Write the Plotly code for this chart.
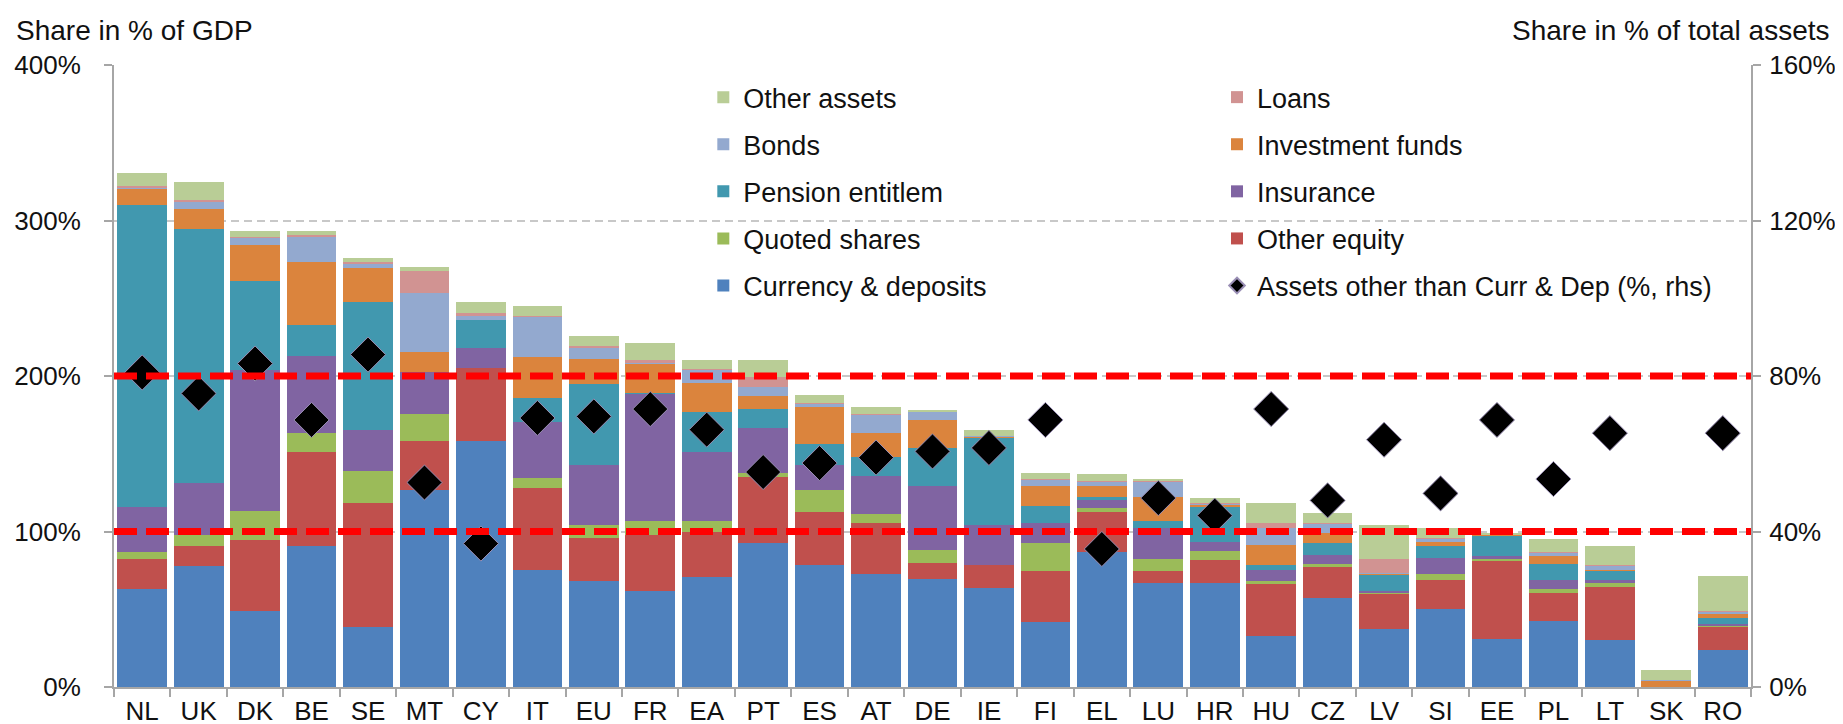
import plotly.graph_objects as go

countries = ["NL", "UK", "DK", "BE", "SE", "MT", "CY", "IT", "EU", "FR", "EA", "PT", "ES", "AT", "DE",
             "IE", "FI", "EL", "LU", "HR", "HU", "CZ", "LV", "SI", "EE", "PL", "LT", "SK", "RO"]

currency_deposits = [63, 78, 49, 90.5, 38.5, 127, 158.5, 75, 68, 62, 70.5, 92.5, 78.5, 72.5, 69.5,
                     63.5, 41.5, 86.5, 67, 67, 32.5, 57, 37, 50, 31, 42.5, 30, 0, 24]
other_equity = [19, 12.5, 45.5, 60.5, 80, 31.5, 46.5, 53, 28, 35.5, 29, 42.5, 34, 33, 10,
                15, 33, 26, 7.5, 14.5, 34, 20, 22.5, 18.5, 50, 18, 34.5, 0, 15]
quoted_shares = [5, 7.5, 18.5, 12.5, 20.5, 17, 0, 6.5, 8.5, 9.5, 7.5, 2.5, 14.5, 6, 8.5,
                 0, 18, 2.5, 7.5, 6, 1.5, 2, 1.5, 4, 1.5, 2.5, 2.5, 0, 0.5]
insurance = [29, 33.5, 91, 49.5, 26.5, 27, 13, 36, 38.5, 81.5, 44, 29, 15.5, 24.5, 41.5,
             26, 13, 5, 20.5, 5.5, 7, 6, 0.5, 10.5, 2, 5.5, 2, 0, 1]
pension = [194, 163, 57, 20, 82, 0, 18, 15.5, 52, 0.5, 26, 12, 14, 12, 24,
           56, 11, 2.5, 4, 22.5, 3.5, 7.5, 11, 7.5, 13, 10.5, 6, 0, 4]
investment_funds = [10.5, 13, 23.5, 40, 22, 13, 0, 26, 16, 18.5, 18.5, 8.5, 23.5, 15.5, 18,
                    0.5, 12.5, 7, 15.5, 2, 13, 6.5, 0.3, 3, 0.3, 5.5, 0.5, 4, 3]
bonds = [1, 5, 4.5, 17, 3, 38, 2.5, 26, 7.5, 1.5, 8.5, 6, 2.5, 11.5, 5.5,
         0.5, 4.5, 2.5, 10, 0.5, 11, 6, 0.3, 2, 0.3, 2, 2.5, 0.5, 1]
loans = [1, 1, 0.5, 0.7, 0.5, 14, 2, 0.5, 0.5, 1, 0.5, 6.5, 0.3, 0.3, 0.3,
         0, 0.3, 0.3, 1, 0.5, 3, 0.3, 9.5, 0.5, 0, 0.3, 0.5, 0, 0.3]
other_assets = [8, 11, 4, 2.5, 3, 2.5, 7, 6.5, 7, 11.5, 5.5, 11, 5, 5, 1,
                4, 4, 5, 0.5, 3, 13, 6.5, 21.5, 6.5, 1, 8.5, 12, 6.5, 22.5]
assets_other_than_cd = [80.9, 75.5, 83.2, 68.7, 85.5, 52.6, 36.9, 69.2, 69.6, 71.5, 66.2, 55.3, 57.6, 59, 60.6,
                        61.5, 68.7, 35.5, 48.6, 44.1, 71.5, 48, 63.6, 49.8, 68.7, 53.5, 65.3, None, 65.3]

left_ticks = [0, 100, 200, 300, 400]
right_ticks = [0, 40, 80, 120, 160]
threshold_lines_lhs = [100, 200]

FONT = "Liberation Sans, Arial, sans-serif"
FS = 26
FS_LEG = 27
FS_TITLE = 28

# (name, values, colour, legend, rank) in stacking order bottom -> top
series = [
    ("Currency & deposits", currency_deposits, "#4F81BD", "legend", 5),
    ("Other equity", other_equity, "#C0504D", "legend2", 4),
    ("Quoted shares", quoted_shares, "#9BBB59", "legend", 4),
    ("Insurance", insurance, "#8064A2", "legend2", 3),
    ("Pension entitlem", pension, "#4198AF", "legend", 3),
    ("Investment funds", investment_funds, "#DB843D", "legend2", 2),
    ("Bonds", bonds, "#93A9CF", "legend", 2),
    ("Loans", loans, "#D19392", "legend2", 1),
    ("Other assets", other_assets, "#B9CD96", "legend", 1),
]

fig = go.Figure()
for name, vals, col, lg, rank in series:
    fig.add_trace(go.Bar(
        x=countries, y=vals, name=name, marker=dict(color=col, line=dict(width=0)),
        legend=lg, legendgroup=name, legendrank=rank, yaxis="y",
    ))

fig.add_trace(go.Scatter(
    x=countries, y=assets_other_than_cd, name="Assets other than Curr & Dep (%, rhs)",
    mode="markers", yaxis="y2", legend="legend2", legendgroup="rhs", legendrank=5,
    marker=dict(symbol="diamond", size=27, color="black", line=dict(color="#9a8fb5", width=1)),
))

for v in threshold_lines_lhs:
    fig.add_shape(type="line", xref="paper", x0=0, x1=1, yref="y", y0=v, y1=v,
                  line=dict(color="#FF0000", width=7, dash="23px,9px"), layer="above")

axis_col = "#A6A6A6"
fig.update_layout(
    width=1843, height=724,
    margin=dict(l=106, r=100, t=57, b=45, autoexpand=False),
    paper_bgcolor="white", plot_bgcolor="white",
    barmode="stack", bargap=0.12,
    font=dict(family=FONT, size=FS, color="#111111"),
    showlegend=True,
    xaxis=dict(type="category", range=[-0.5, len(countries) - 0.5], showline=True, linecolor=axis_col,
               linewidth=2, ticks="outside", tickson="boundaries", ticklen=8, tickcolor=axis_col,
               tickwidth=2, showgrid=False, tickfont=dict(size=FS), automargin=False),
    yaxis=dict(range=[0, 400], tickvals=left_ticks, ticktext=[f"{t}%" for t in left_ticks],
               showline=True, linecolor=axis_col, linewidth=2, ticks="outside", ticklen=8,
               tickcolor=axis_col, tickwidth=2, showgrid=True, gridcolor="#C8C8C8", gridwidth=1.5,
               griddash="8px,5px", zeroline=False, ticklabelstandoff=18, automargin=False),
    yaxis2=dict(range=[0, 160], tickvals=right_ticks, ticktext=[f"{t}%" for t in right_ticks],
                overlaying="y", side="right", showline=True, linecolor=axis_col, linewidth=2,
                ticks="outside", ticklen=8, tickcolor=axis_col, tickwidth=2, showgrid=False,
                zeroline=False, ticklabelstandoff=3, automargin=False),
    legend=dict(x=0.360, y=0.987, xanchor="left", yanchor="top", traceorder="grouped",
                tracegroupgap=9, font=dict(size=FS_LEG), bgcolor="rgba(0,0,0,0)", itemsizing="constant"),
    legend2=dict(x=0.6738, y=0.987, xanchor="left", yanchor="top", traceorder="grouped",
                 tracegroupgap=9, font=dict(size=FS_LEG), bgcolor="rgba(0,0,0,0)", itemsizing="constant"),
    annotations=[
        dict(text="Share in % of GDP", xref="paper", yref="paper", x=-0.061, y=1.0547,
             xanchor="left", yanchor="middle", showarrow=False, font=dict(size=FS_TITLE)),
        dict(text="Share in % of total assets", xref="paper", yref="paper", x=1.0495, y=1.0547,
             xanchor="right", yanchor="middle", showarrow=False, font=dict(size=FS_TITLE)),
    ],
)

fig.write_html("out.html")
